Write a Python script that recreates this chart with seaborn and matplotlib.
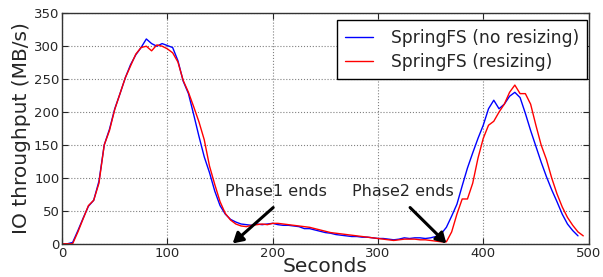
import numpy as np
import pandas as pd
import matplotlib
matplotlib.use("Agg")
import matplotlib.pyplot as plt
import seaborn as sns

seconds = list(range(0, 500, 5))

no_resizing = [
    0, 0, 2, 20, 39, 57, 66, 95, 150, 174,
    205, 228, 252, 272, 287, 298, 311, 304, 300, 304,
    301, 298, 278, 247, 228, 196, 163, 132, 108, 80,
    58, 45, 37, 33, 30, 29, 28, 30, 29, 30,
    31, 29, 28, 28, 27, 26, 23, 23, 21, 19,
    17, 16, 14, 13, 12, 11, 11, 10, 10, 9,
    8, 8, 7, 6, 7, 9, 8, 9, 9, 8,
    9, 11, 15, 25, 42, 60, 88, 115, 138, 160,
    180, 205, 218, 205, 212, 224, 230, 222, 198, 172,
    148, 124, 102, 82, 64, 45, 30, 20, 12, np.nan,
]

resizing = [
    0, 0, 0, 18, 38, 58, 66, 92, 150, 172,
    204, 228, 252, 270, 288, 298, 300, 293, 302, 300,
    296, 290, 276, 248, 230, 208, 185, 158, 118, 90,
    64, 46, 36, 30, 27, 26, 28, 29, 30, 29,
    31, 31, 30, 29, 28, 27, 26, 25, 23, 21,
    19, 17, 16, 15, 14, 13, 12, 11, 10, 9,
    8, 7, 6, 5, 6, 7, 7, 7, 6, 6,
    5, 4, 3, 3, 18, 45, 68, 68, 92, 130,
    160, 180, 186, 200, 212, 230, 241, 228, 228, 212,
    180, 150, 128, 100, 76, 56, 40, 28, 18, 12,
]

series_names = ["SpringFS (no resizing)", "SpringFS (resizing)"]
series_colors = ["#0000ff", "#ff0000"]
annotations = ["Phase1 ends", "Phase2 ends"]

sns.set_style("white")
plt.rcParams["font.family"] = ["DejaVu Sans"]

fig = plt.figure(figsize=(6.03, 2.77), dpi=100)
ax = fig.add_axes([0.103, 0.120, 0.873, 0.832])

df_b = pd.DataFrame({"t": seconds, "v": no_resizing})
df_r = pd.DataFrame({"t": seconds, "v": resizing})
sns.lineplot(data=df_b, x="t", y="v", color=series_colors[0], lw=1.0,
             label=series_names[0], ax=ax, legend=False)
sns.lineplot(data=df_r, x="t", y="v", color=series_colors[1], lw=1.0,
             label=series_names[1], ax=ax, legend=False)

ax.set_xlim(0, 500)
ax.set_ylim(0, 350)
ax.set_xticks(range(0, 501, 100))
ax.set_yticks(range(0, 351, 50))
ax.grid(True, linestyle=":", color="#808080", lw=0.8)
for s in ax.spines.values():
    s.set_color("#333333")
    s.set_linewidth(1.0)
ax.tick_params(direction="in", length=4, width=0.8, labelsize=9.5,
               top=True, right=True, bottom=True, left=True, pad=2)
ax.set_xlabel("Seconds", fontsize=14.5, labelpad=-2)
ax.set_ylabel("IO throughput (MB/s)", fontsize=14.5, labelpad=2)

ax.text(203, 80, annotations[0], fontsize=11.5, ha="center", va="center")
ax.text(324, 80, annotations[1], fontsize=11.5, ha="center", va="center")
arrow = dict(arrowstyle="-|>,head_width=0.35,head_length=0.6", color="black", lw=2.2,
             shrinkA=0, shrinkB=0)
ax.annotate("", xy=(162, 0.5), xytext=(200.5, 55), arrowprops=arrow)
ax.annotate("", xy=(365, 0.5), xytext=(330.5, 55), arrowprops=arrow)

leg = ax.legend(loc="upper right", bbox_to_anchor=(0.998, 0.97), borderaxespad=0,
                fontsize=12.3, handlelength=1.6, handletextpad=1.05,
                labelspacing=0.35, borderpad=0.5, fancybox=False, framealpha=1)
leg.get_frame().set_edgecolor("black")
leg.get_frame().set_linewidth(1.0)

fig.savefig("out.png", dpi=100)
